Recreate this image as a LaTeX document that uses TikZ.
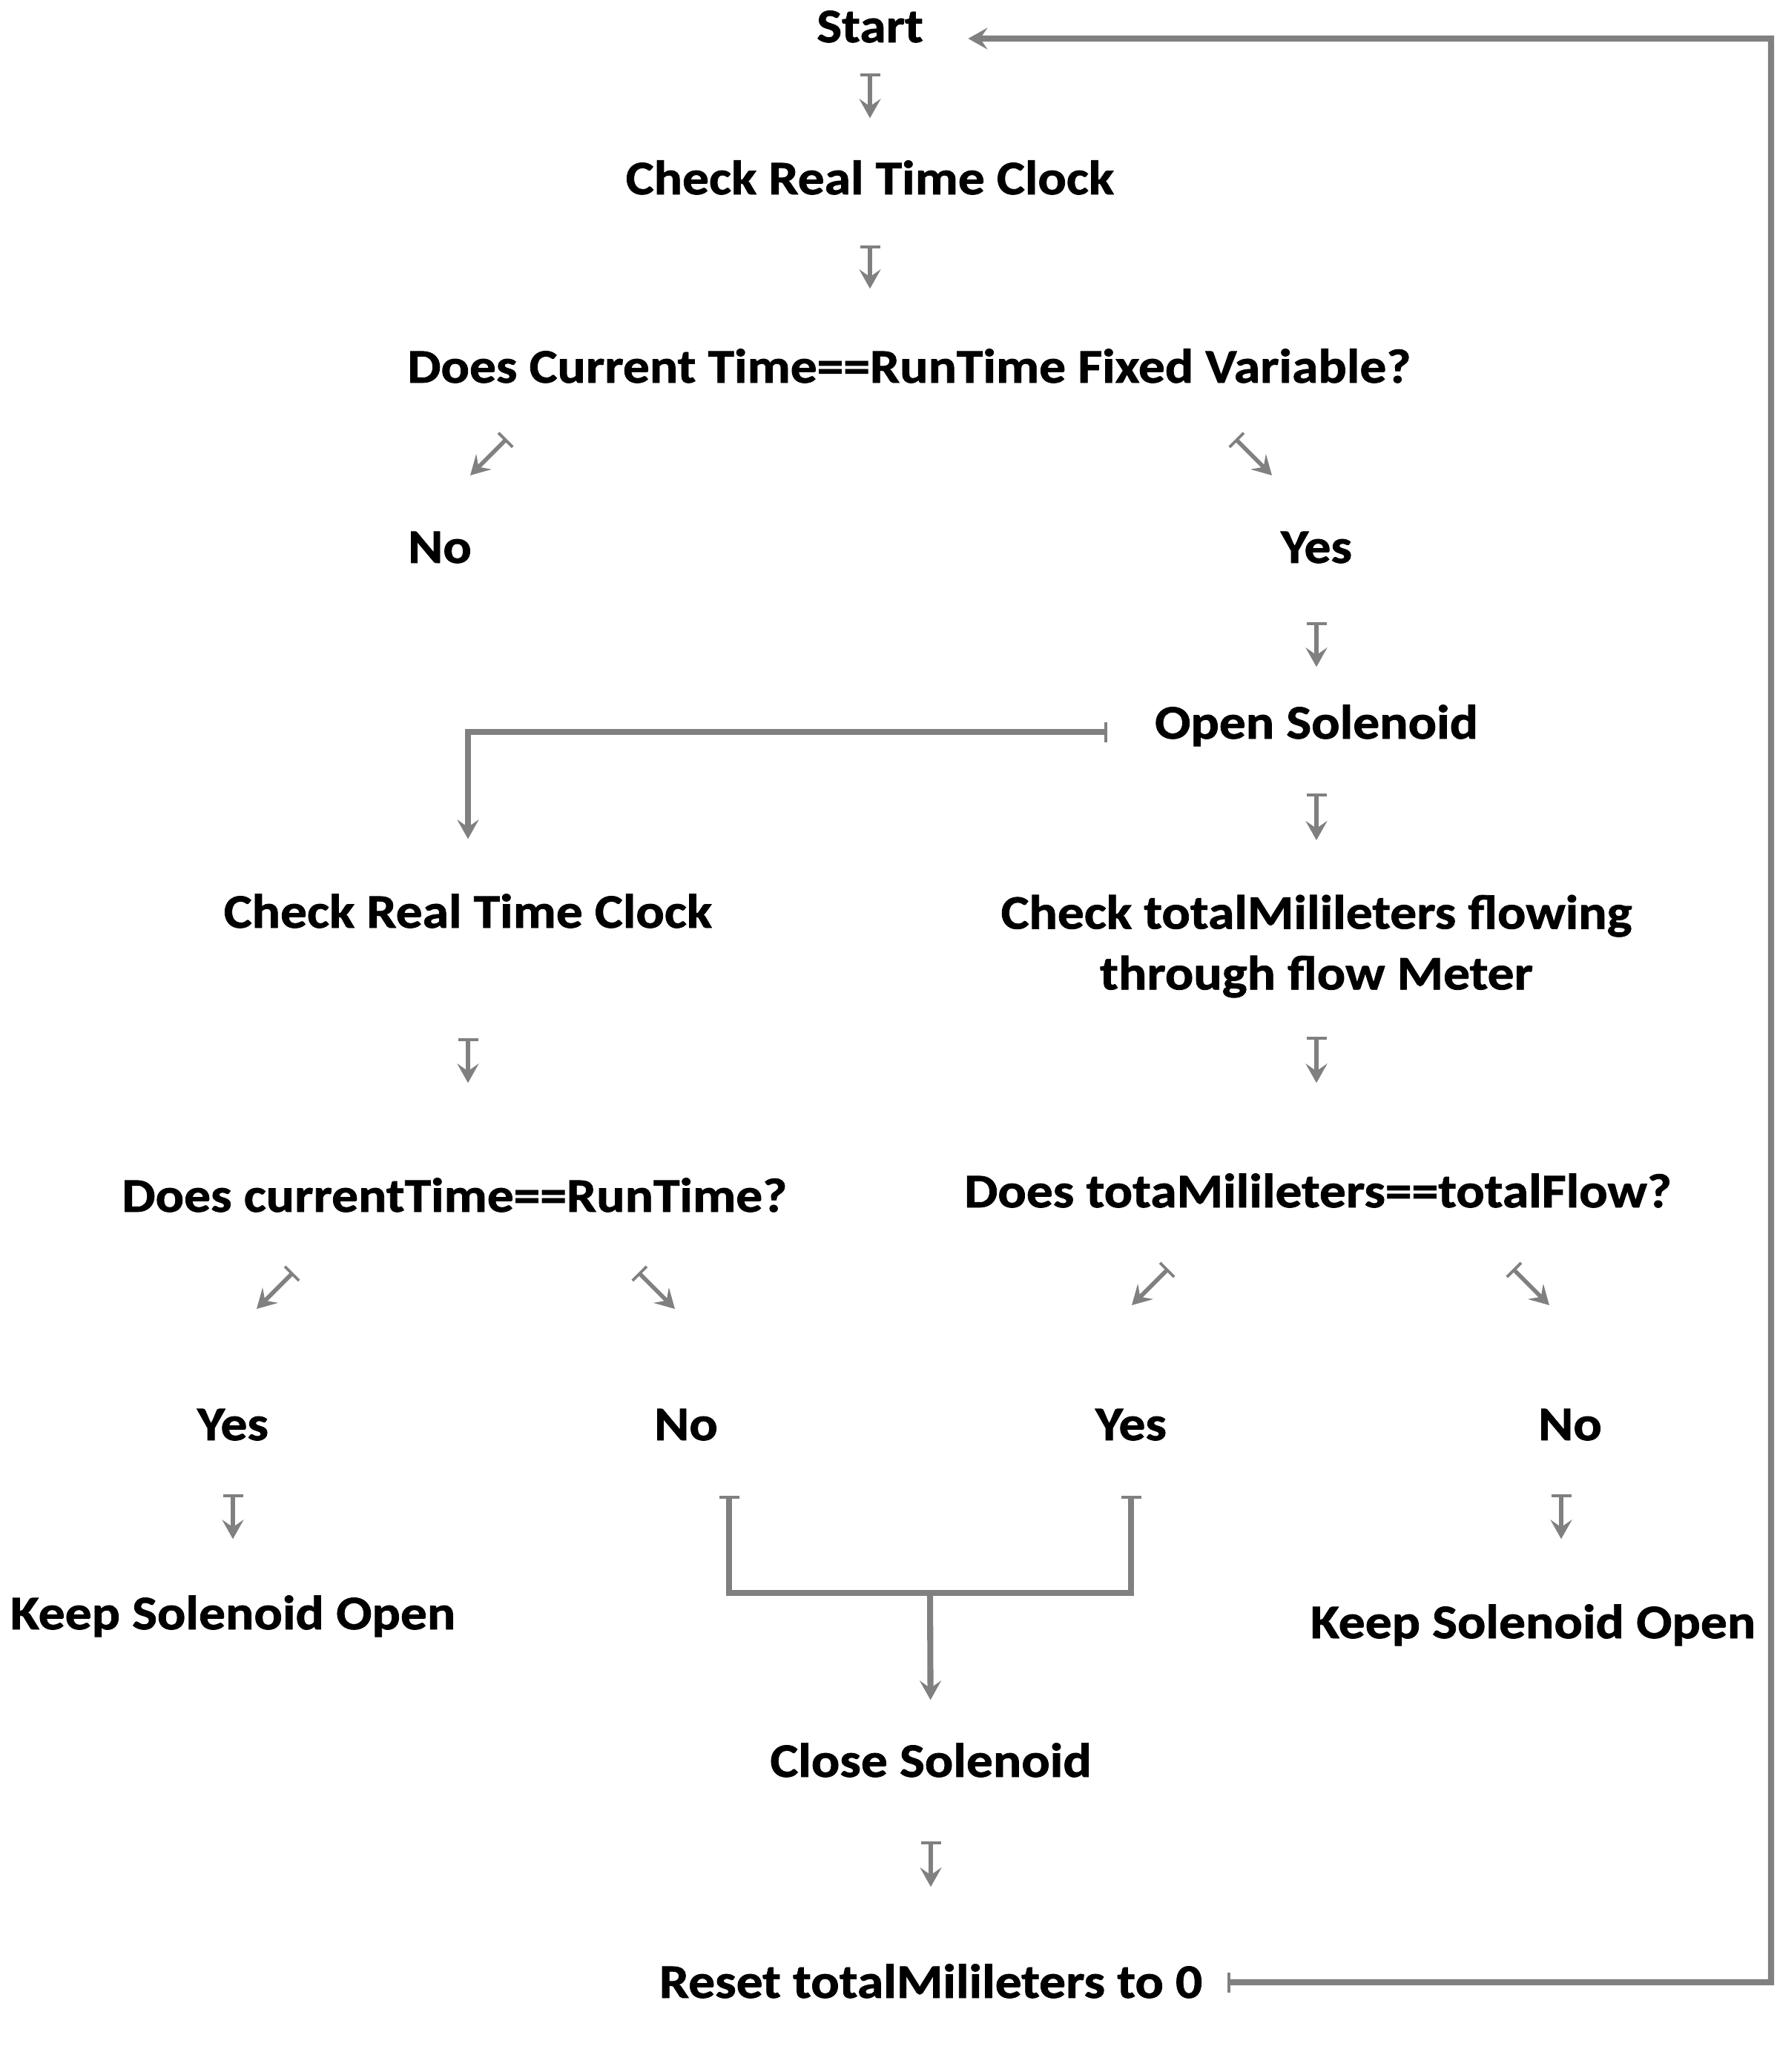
\documentclass[tikz,border=0pt]{standalone}
\usepackage{fontspec}
\setmainfont{Carlito}[FakeStretch=1.1,BoldFeatures={FakeBold=1.2}]
\usepackage{xcolor}
\usetikzlibrary{arrows.meta,calc}
\definecolor{flowgray}{RGB}{128,128,128}

\begin{document}
\begin{tikzpicture}[every text node part/.style={align=center},
  lbl/.style={font=\fontsize{18.5}{23.3}\selectfont\bfseries, inner sep=0pt},
  one/.style={lbl, text height=0.45cm, text depth=0.13cm},
  flow/.style={draw=flowgray, line width=1.6pt, {Bar[width=0.27cm,line width=1.1pt]}-{Stealth[length=0.26cm,width=0.29cm,inset=0.1cm]}},
  link/.style={flow, line width=2.3pt},
  tee/.style={draw=flowgray, line width=2.3pt, {Bar[width=0.27cm,line width=1.1pt]}-}]
\useasboundingbox (0,0) rectangle (23.95,-27.94);
\node[one] (start) at (11.73,-0.41) {Start};
\node[one] (rtc1) at (11.73,-2.46) {Check Real Time Clock};
\node[one] (q1) at (12.26,-5.00) {Does Current Time==RunTime Fixed Variable?};
\node[one] (no1) at (5.93,-7.43) {No};
\node[one] (yes1) at (17.75,-7.43) {Yes};
\node[one] (open) at (17.75,-9.80) {Open Solenoid};
\node[one] (rtc2) at (6.31,-12.35) {Check Real Time Clock};
\node[lbl] (flow) at (17.75,-12.76) {Check totalMilileters flowing\\through flow Meter};
\node[one] (q2) at (6.13,-16.18) {Does currentTime==RunTime?};
\node[one] (q3) at (17.77,-16.12) {Does totaMilileters==totalFlow?};
\node[one] (yes2) at (3.14,-19.26) {Yes};
\node[one] (no2) at (9.25,-19.26) {No};
\node[one] (yes3) at (15.25,-19.26) {Yes};
\node[one] (no3) at (21.17,-19.26) {No};
\node[one] (keep1) at (3.14,-21.81) {Keep Solenoid Open};
\node[one] (keep2) at (20.67,-21.93) {Keep Solenoid Open};
\node[one] (close) at (12.55,-23.80) {Close Solenoid};
\node[one] (reset) at (12.55,-26.78) {Reset totalMilileters to 0};
% straight steps
\draw[flow, shorten <=0.28cm, shorten >=0.57cm] (start) -- (rtc1);
\draw[flow, shorten <=0.55cm, shorten >=0.81cm] (rtc1.south) -- (rtc1.south |- q1.north);
\draw[flow, shorten <=0.66cm, shorten >=0.51cm] (yes1) -- (open);
\draw[flow, shorten <=0.60cm, shorten >=0.73cm] (open) -- (flow);
\draw[flow, shorten <=1.35cm, shorten >=1.28cm] (rtc2.south) -- (rtc2.south |- q2.north);
\draw[flow, shorten <=0.52cm, shorten >=1.22cm] (flow.south) -- (flow.south |- q3.north);
\draw[flow, shorten <=0.59cm, shorten >=0.76cm] (yes2) -- (keep1);
\draw[flow, shorten <=0.59cm, shorten >=0.88cm] ([xshift=-0.12cm]no3.south) -- ([xshift=-0.12cm]no3.south |- keep2.north);
\draw[flow, shorten <=0.73cm, shorten >=1.04cm] (close) -- (reset);
% answers
\coordinate (q1a) at (6.83,-5.92);
\coordinate (q1b) at (16.66,-5.92);
\coordinate (q2a) at (3.95,-17.16);
\coordinate (q2b) at (8.61,-17.16);
\coordinate (q3a) at (15.75,-17.11);
\coordinate (q3b) at (20.40,-17.11);
\draw[flow] (q1a) -- ++(-0.49,-0.49);
\draw[flow] (q1b) -- ++(0.49,-0.49);
\draw[flow] (q2a) -- ++(-0.49,-0.49);
\draw[flow] (q2b) -- ++(0.49,-0.49);
\draw[flow] (q3a) -- ++(-0.49,-0.49);
\draw[flow] (q3b) -- ++(0.49,-0.49);
% elbows
\draw[link, shorten <=0.63cm, shorten >=0.74cm] ([yshift=-0.07cm]open.west) -| (rtc2.north);
\coordinate (join) at (12.54,-21.48);
\draw[tee, shorten <=0.61cm] ([xshift=0.58cm]no2.south) |- (join);
\draw[tee, shorten <=0.61cm] (yes3.south) |- (join);
\draw[link, -{Stealth[length=0.26cm,width=0.29cm,inset=0.1cm]}, shorten >=0.58cm] (join) -- (close);
\coordinate (back) at (23.88,-0.52);
\draw[link, shorten <=0.33cm, shorten >=0.60cm] ([yshift=0.05cm]reset.east) -| (back) -- ([yshift=-0.11cm]start.east);
\end{tikzpicture}
\end{document}
